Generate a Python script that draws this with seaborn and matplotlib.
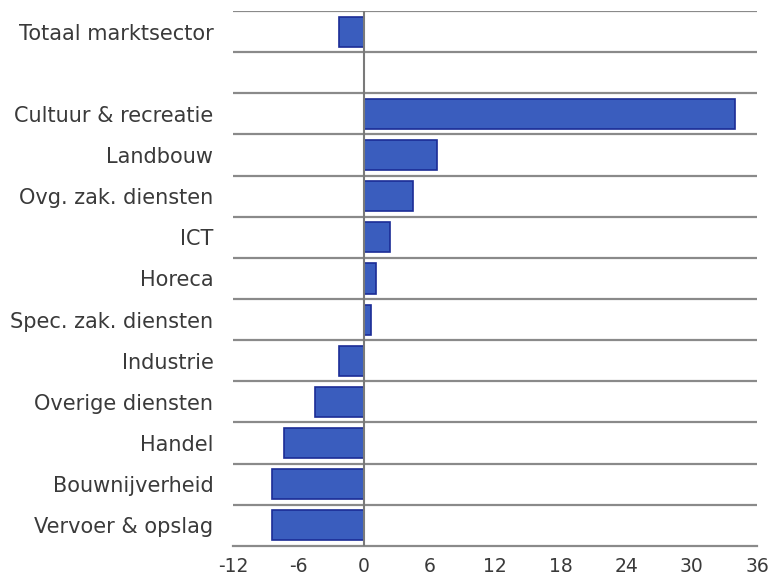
import pandas as pd
import matplotlib
matplotlib.use("Agg")
import matplotlib.pyplot as plt
import seaborn as sns

# categories top to bottom; blank row separates the total
sectors = ["Totaal marktsector", "Cultuur & recreatie", "Landbouw",
           "Ovg. zak. diensten", "ICT", "Horeca", "Spec. zak. diensten",
           "Industrie", "Overige diensten", "Handel", "Bouwnijverheid",
           "Vervoer & opslag"]
values = [-2.3, 34.0, 6.7, 4.5, 2.4, 1.1, 0.6, -2.3, -4.5, -7.3, -8.4, -8.4]
row_order = ["Totaal marktsector", " "] + sectors[1:]
xticks = [-12, -6, 0, 6, 12, 18, 24, 30, 36]

df = pd.DataFrame({"sector": sectors, "value": values})

sns.set_style("white")
plt.rcParams['font.family'] = ['DejaVu Sans']

fig = plt.figure(figsize=(7.79, 5.82), dpi=100)
ax = fig.add_axes([0.299, 0.062, 0.673, 0.919])

sns.barplot(data=df, x="value", y="sector", order=row_order, orient="h",
            color="#3A5DBE", saturation=1, width=0.73,
            edgecolor="#1B2C96", linewidth=1.2, ax=ax, zorder=3)

ax.set_xlim(-12, 36)
ax.set_ylim(len(row_order) - 0.5, -0.5)
ax.set_xticks(xticks)
ax.set_xticklabels([str(t) for t in xticks], fontsize=13.5, color="#3a3a3a")

# row separators
for i in range(len(row_order)):
    ax.axhline(i - 0.5, color="#8a8a8a", lw=1.6, zorder=1)
ax.axvline(0, color="#7a7a7a", lw=1.5, zorder=4)

for s in ["top", "right", "left"]:
    ax.spines[s].set_visible(False)
ax.spines["bottom"].set_color("#8a8a8a")
ax.spines["bottom"].set_linewidth(1.6)
ax.tick_params(axis="x", direction="in", length=4, width=1.4,
               color="#8a8a8a", pad=8)
ax.tick_params(axis="y", length=0, pad=14, labelsize=15, labelcolor="#3a3a3a")
ax.set_xlabel("")
ax.set_ylabel("")

fig.savefig("out.png", dpi=100)
